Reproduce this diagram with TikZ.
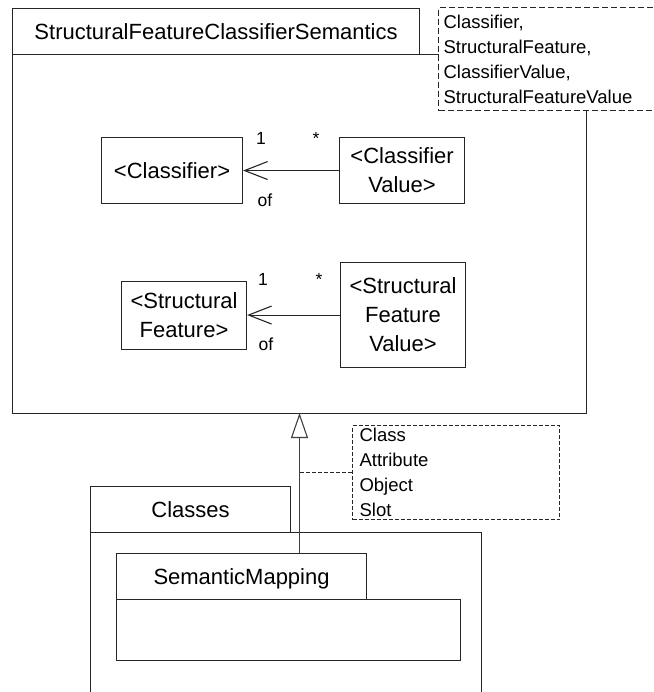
\documentclass[tikz,border=0pt]{standalone}
\usepackage{fontspec}
\setmainfont{Liberation Sans}
\usetikzlibrary{arrows.meta}
\begin{document}
\begin{tikzpicture}[x=1pt,y=-1pt,
  line width=1.1pt,
  pkg/.style={draw=black!85, fill=white, inner sep=0pt, anchor=north west,
    font=\fontsize{22}{29}\selectfont, text height=15.8pt, text depth=0pt},
  pkgbody/.style={draw=black!85, fill=white, inner sep=0pt, anchor=north west},
  clsbox/.style={draw=black!85, fill=white, inner sep=0pt, anchor=north west,
    align=center, font=\fontsize{22}{29}\selectfont},
  notebox/.style={draw=black!85, fill=white, inner sep=0pt, anchor=north west},
  notetext/.style={inner sep=0pt, anchor=north west, align=left,
    font=\fontsize{18.5}{25}\selectfont},
  lbl/.style={inner sep=0pt, anchor=base, font=\fontsize{17.5}{22}\selectfont},
  assoc/.style={draw=black!85, -{Straight Barb[length=23pt,width=18pt,line width=1.1pt]}},
  gen/.style={draw=black!75, line width=1pt, -{Triangle[open,fill=white,length=25pt,width=17pt,line width=1.1pt]}},
  notelink/.style={draw=black!85, line width=1pt, dash pattern=on 4pt off 2pt},
]
\useasboundingbox (0,0) rectangle (653,692);
\clip (0,0) rectangle (653,692);
\fill[white] (0,0) rectangle (653,692);

% main package
\node[pkgbody, minimum width=574pt, minimum height=359pt] (pbody) at (12,54) {};
\node[pkg, minimum width=407pt, minimum height=46pt] (ptab) at (12,8) {StructuralFeatureClassifierSemantics};

% note 1
\node[notebox, dash pattern=on 6pt off 3pt, minimum width=222pt, minimum height=103pt] (note1) at (438,7) {};
\node[notetext] (note1t) at (443,15) {Classifier,\\StructuralFeature,\\ClassifierValue,\\StructuralFeatureValue};

% classes inside
\node[clsbox, minimum width=141pt, minimum height=66pt] (c1) at (101,137) {<Classifier>};
\node[clsbox, minimum width=125pt, minimum height=66pt] (c2) at (339,137) {<Classifier\\Value>};
\node[clsbox, minimum width=125pt, minimum height=68pt] (c3) at (121,281) {<Structural\\Feature>};
\node[clsbox, minimum width=125pt, minimum height=105pt] (c4) at (340,262) {<Structural\\Feature\\Value>};

\draw[assoc] (c2.west) -- (c1.east);
\draw[assoc] (c4.west) -- (c4.west -| c3.east);

\node[lbl] (l1a) at (261,145) {1};
\node[lbl] (l1b) at (316,145) {*};
\node[lbl] (l1c) at (265,207) {of};
\node[lbl] (l2a) at (263,285) {1};
\node[lbl] (l2b) at (319,285) {*};
\node[lbl] (l2c) at (266,350) {of};

% Classes package
\node[pkgbody, minimum width=391pt, minimum height=200pt] (cbody) at (90,532) {};
\node[pkg, minimum width=200pt, minimum height=46pt] (ctab) at (90,486) {Classes};

% SemanticMapping
\node[pkgbody, minimum width=344pt, minimum height=61pt] (sbody) at (116,599) {};
\node[pkg, minimum width=250pt, minimum height=46pt] (stab) at (116,553) {SemanticMapping};

% generalization
\coordinate (gb) at (299.5,553);
\coordinate (gt) at (299.5,413);
\draw[gen] (gb) -- (gt);

% note 2
\node[notebox, line width=1pt, dash pattern=on 4pt off 2pt, minimum width=207pt, minimum height=94pt] (note2) at (352,425) {};
\node[notetext] (note2t) at (359,428) {Class\\Attribute\\Object\\Slot};
\draw[notelink] (note2.west -| gb) -- (note2.west);
\end{tikzpicture}
\end{document}
